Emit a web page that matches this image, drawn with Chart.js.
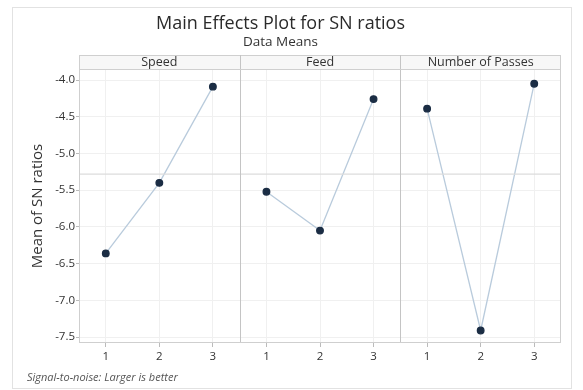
<!DOCTYPE html>
<html>
<head>
<meta charset="utf-8">
<script src="https://cdn.jsdelivr.net/npm/chart.js@4.4.1/dist/chart.umd.min.js"></script>
<style>
  html, body { margin: 0; padding: 0; background: #ffffff; }
  #wrap { width: 583px; height: 390px; }
</style>
</head>
<body>
<div id="wrap"><canvas id="mainEffects" width="583" height="390"></canvas></div>
<script>
// factor names and their levels
const factors = ['Speed', 'Feed', 'Number of Passes'];
const levels = [1, 2, 3];

// mean SN ratio per level
const speedMeans = [-6.36, -5.40, -4.09];
const feedMeans = [-5.52, -6.05, -4.26];
const passesMeans = [-4.39, -7.41, -4.05];

const yTickValues = [-7.5, -7.0, -6.5, -6.0, -5.5, -5.0, -4.5, -4.0];

const allMeans = [speedMeans, feedMeans, passesMeans];
const grandMean = allMeans.flat().reduce((a, b) => a + b, 0) / allMeans.flat().length;

// each panel gets 3 x-slots, panel k covers x = 3k+0.5 .. 3k+3.5
const xTickValues = [];
factors.forEach((f, k) => levels.forEach(l => xTickValues.push(k * 3 + l)));

const pointColor = '#1b2d44';
const lineColor = '#b9cbdc';
const font = '"Open Sans", sans-serif';

const datasets = allMeans.map((means, k) => ({
    label: factors[k],
    data: means.map((v, i) => ({ x: k * 3 + levels[i], y: v })),
    borderColor: lineColor,
    borderWidth: 1.3,
    pointBackgroundColor: pointColor,
    pointBorderColor: pointColor,
    pointRadius: 3.3,
    tension: 0
}));

datasets.unshift({
    label: 'Mean',
    data: [{ x: 0.5, y: grandMean }, { x: factors.length * 3 + 0.5, y: grandMean }],
    borderColor: '#dcdcdc',
    borderWidth: 1.2,
    pointRadius: 0
});

// frame, strip headers, panel dividers and footnote
const panelPlugin = {
    id: 'panels',
    beforeDraw(chart) {
        const c = chart.ctx;
        c.save();
        c.fillStyle = '#ffffff';
        c.fillRect(0, 0, chart.width, chart.height);
        c.strokeStyle = '#e2e2e2';
        c.lineWidth = 1;
        c.strokeRect(12.5, 7.5, 559, 381);
        c.restore();
    },
    afterDatasetsDraw(chart) {
        const c = chart.ctx;
        const area = chart.chartArea;
        const x = chart.scales.x;
        c.save();
        // strip
        const top = area.top - 14;
        c.fillStyle = '#f7f7f7';
        c.fillRect(area.left, top, area.right - area.left, 14);
        c.strokeStyle = '#cfcfcf';
        c.lineWidth = 1;
        c.strokeRect(area.left + 0.5, top + 0.5, area.right - area.left - 1, 14);
        // panel borders
        c.strokeStyle = '#c4c4c4';
        factors.forEach((f, k) => {
            const x0 = x.getPixelForValue(k * 3 + 0.5);
            const x1 = x.getPixelForValue(k * 3 + 3.5);
            if (k > 0) {
                c.beginPath();
                c.moveTo(Math.round(x0) + 0.5, top);
                c.lineTo(Math.round(x0) + 0.5, area.bottom);
                c.stroke();
            }
            c.fillStyle = '#333333';
            c.font = '12.5px ' + font;
            c.textAlign = 'center';
            c.textBaseline = 'middle';
            c.fillText(f, (x0 + x1) / 2, top + 7.5);
        });
        c.strokeStyle = '#cfcfcf';
        c.strokeRect(area.left + 0.5, area.top + 0.5, area.right - area.left - 1, area.bottom - area.top - 1);
        // footnote
        c.fillStyle = '#555555';
        c.font = 'italic 11px ' + font;
        c.textAlign = 'left';
        c.textBaseline = 'middle';
        c.fillText('Signal-to-noise: Larger is better', 27, 378);
        c.restore();
    }
};

new Chart(document.getElementById('mainEffects'), {
    type: 'line',
    data: { datasets: datasets },
    options: {
        responsive: false,
        animation: false,
        layout: { padding: { left: 0, right: 22, top: 7, bottom: 0 } },
        plugins: {
            legend: { display: false },
            tooltip: { enabled: false },
            title: {
                display: true,
                text: 'Main Effects Plot for SN ratios',
                color: '#2a2a2a',
                font: { family: font, size: 18, weight: 'normal', lineHeight: 1.1 },
                padding: { top: 7, bottom: 0 }
            },
            subtitle: {
                display: true,
                text: 'Data Means',
                color: '#333333',
                font: { family: font, size: 13.5, weight: 'normal' },
                padding: { top: 0, bottom: 19 }
            }
        },
        scales: {
            x: {
                type: 'linear',
                min: 0.5,
                max: factors.length * 3 + 0.5,
                afterBuildTicks: s => { s.ticks = xTickValues.map(v => ({ value: v })); },
                afterFit: s => { s.height = 47; },
                border: { display: false },
                grid: { color: '#f0f0f0', tickColor: '#bbbbbb', tickLength: 4 },
                ticks: {
                    padding: 3,
                    color: '#333333',
                    font: { family: font, size: 11.5 },
                    callback: v => String(levels[(Math.round(v) - 1) % 3])
                }
            },
            y: {
                type: 'linear',
                min: -7.58,
                max: -3.85,
                afterBuildTicks: s => { s.ticks = yTickValues.map(v => ({ value: v })); },
                afterFit: s => { s.width = 79; },
                border: { display: false },
                grid: { color: '#f0f0f0', tickColor: '#bbbbbb', tickLength: 3 },
                ticks: {
                    padding: 1,
                    color: '#333333',
                    font: { family: font, size: 11.5 },
                    callback: v => v.toFixed(1)
                },
                title: {
                    display: true,
                    text: 'Mean of SN ratios',
                    color: '#333333',
                    font: { family: font, size: 15 },
                    padding: { top: 29, bottom: 0 }
                }
            }
        }
    },
    plugins: [panelPlugin]
});
</script>
</body>
</html>
